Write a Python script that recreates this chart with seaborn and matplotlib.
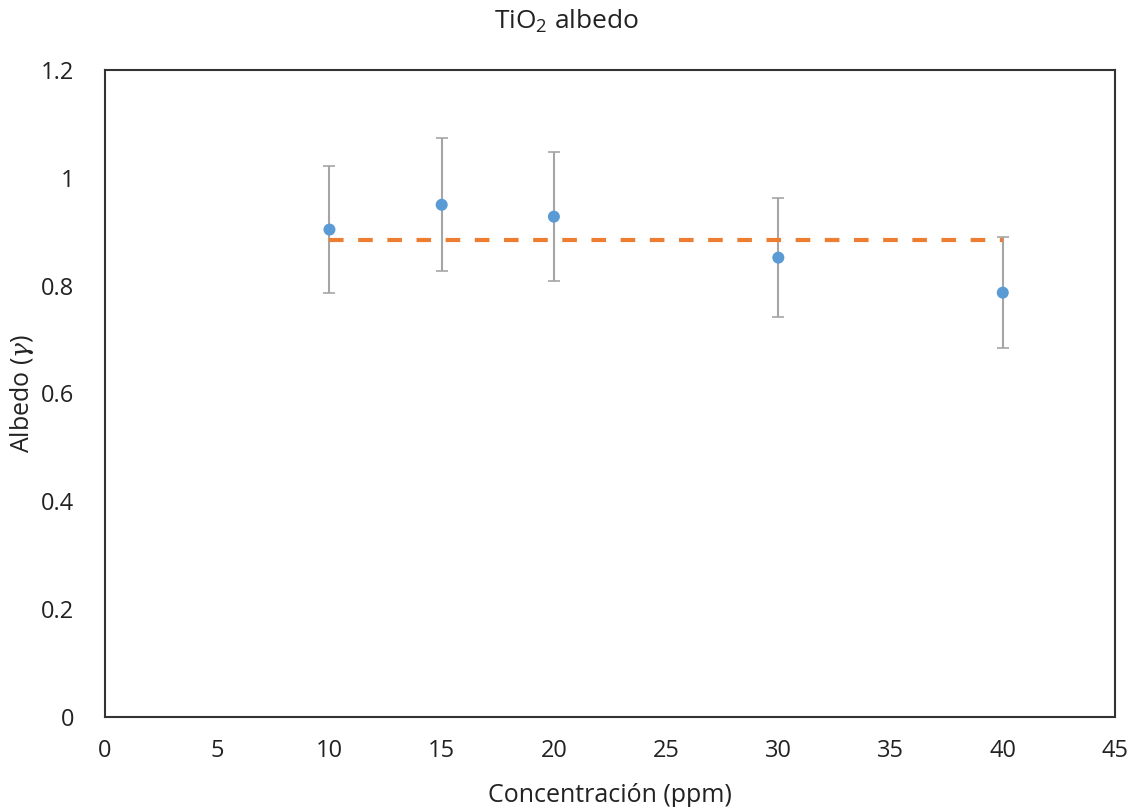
import numpy as np
import pandas as pd
import matplotlib
matplotlib.use('Agg')
import matplotlib.pyplot as plt
import seaborn as sns

conc = [10, 15, 20, 30, 40]
albedo = [0.904, 0.950, 0.928, 0.852, 0.787]
err = [0.117, 0.123, 0.120, 0.111, 0.103]
x_ticks = [0, 5, 10, 15, 20, 25, 30, 35, 40, 45]
y_ticks = [0, 0.2, 0.4, 0.6, 0.8, 1.0, 1.2]

df = pd.DataFrame({'conc': conc, 'albedo': albedo, 'err': err})
mean_val = df['albedo'].mean()
df_mean = pd.DataFrame({'conc': [conc[0], conc[-1]], 'albedo': [mean_val, mean_val]})

sns.set_style('white')
plt.rcParams['font.family'] = ['Open Sans', 'DejaVu Sans']
plt.rcParams['mathtext.fontset'] = 'custom'
plt.rcParams['mathtext.rm'] = 'Open Sans'
plt.rcParams['mathtext.it'] = 'DejaVu Serif:italic'
plt.rcParams['mathtext.default'] = 'rm'

fig = plt.figure(figsize=(11.33, 8.07), dpi=100)
ax = fig.add_axes([0.0927, 0.1115, 0.8914, 0.8018])

ax.errorbar(df['conc'], df['albedo'], yerr=df['err'], fmt='none',
            ecolor='#A5A5A5', elinewidth=1.5, capsize=4, capthick=1.2, zorder=2)
sns.lineplot(data=df_mean, x='conc', y='albedo', ax=ax, color='#ED7D31',
             lw=3, linestyle=(0, (3.5, 3.5)), zorder=3)
sns.scatterplot(data=df, x='conc', y='albedo', ax=ax, color='#5B9BD5',
                s=75, edgecolor='none', zorder=4)

ax.set_xlim(0, 45)
ax.set_ylim(0, 1.2)
ax.set_xticks(x_ticks)
ax.set_yticks(y_ticks)
ax.set_xticklabels([str(t) for t in x_ticks])
ax.set_yticklabels(['0', '0.2', '0.4', '0.6', '0.8', '1', '1.2'])
ax.tick_params(axis='both', length=0, labelsize=17, colors='#222222')
ax.tick_params(axis='x', pad=16)
ax.tick_params(axis='y', pad=22)
for s in ax.spines.values():
    s.set_color('#333333')
    s.set_linewidth(1.5)

ax.set_xlabel('Concentración (ppm)', fontsize=18, color='#222222', labelpad=14)
ax.set_ylabel('Albedo ($\\mathit{\\gamma}$)', fontsize=18, color='#222222', labelpad=4)
fig.suptitle('TiO$_2$ albedo', fontsize=19, color='#222222', y=0.99)

fig.savefig('out.png', dpi=100)
